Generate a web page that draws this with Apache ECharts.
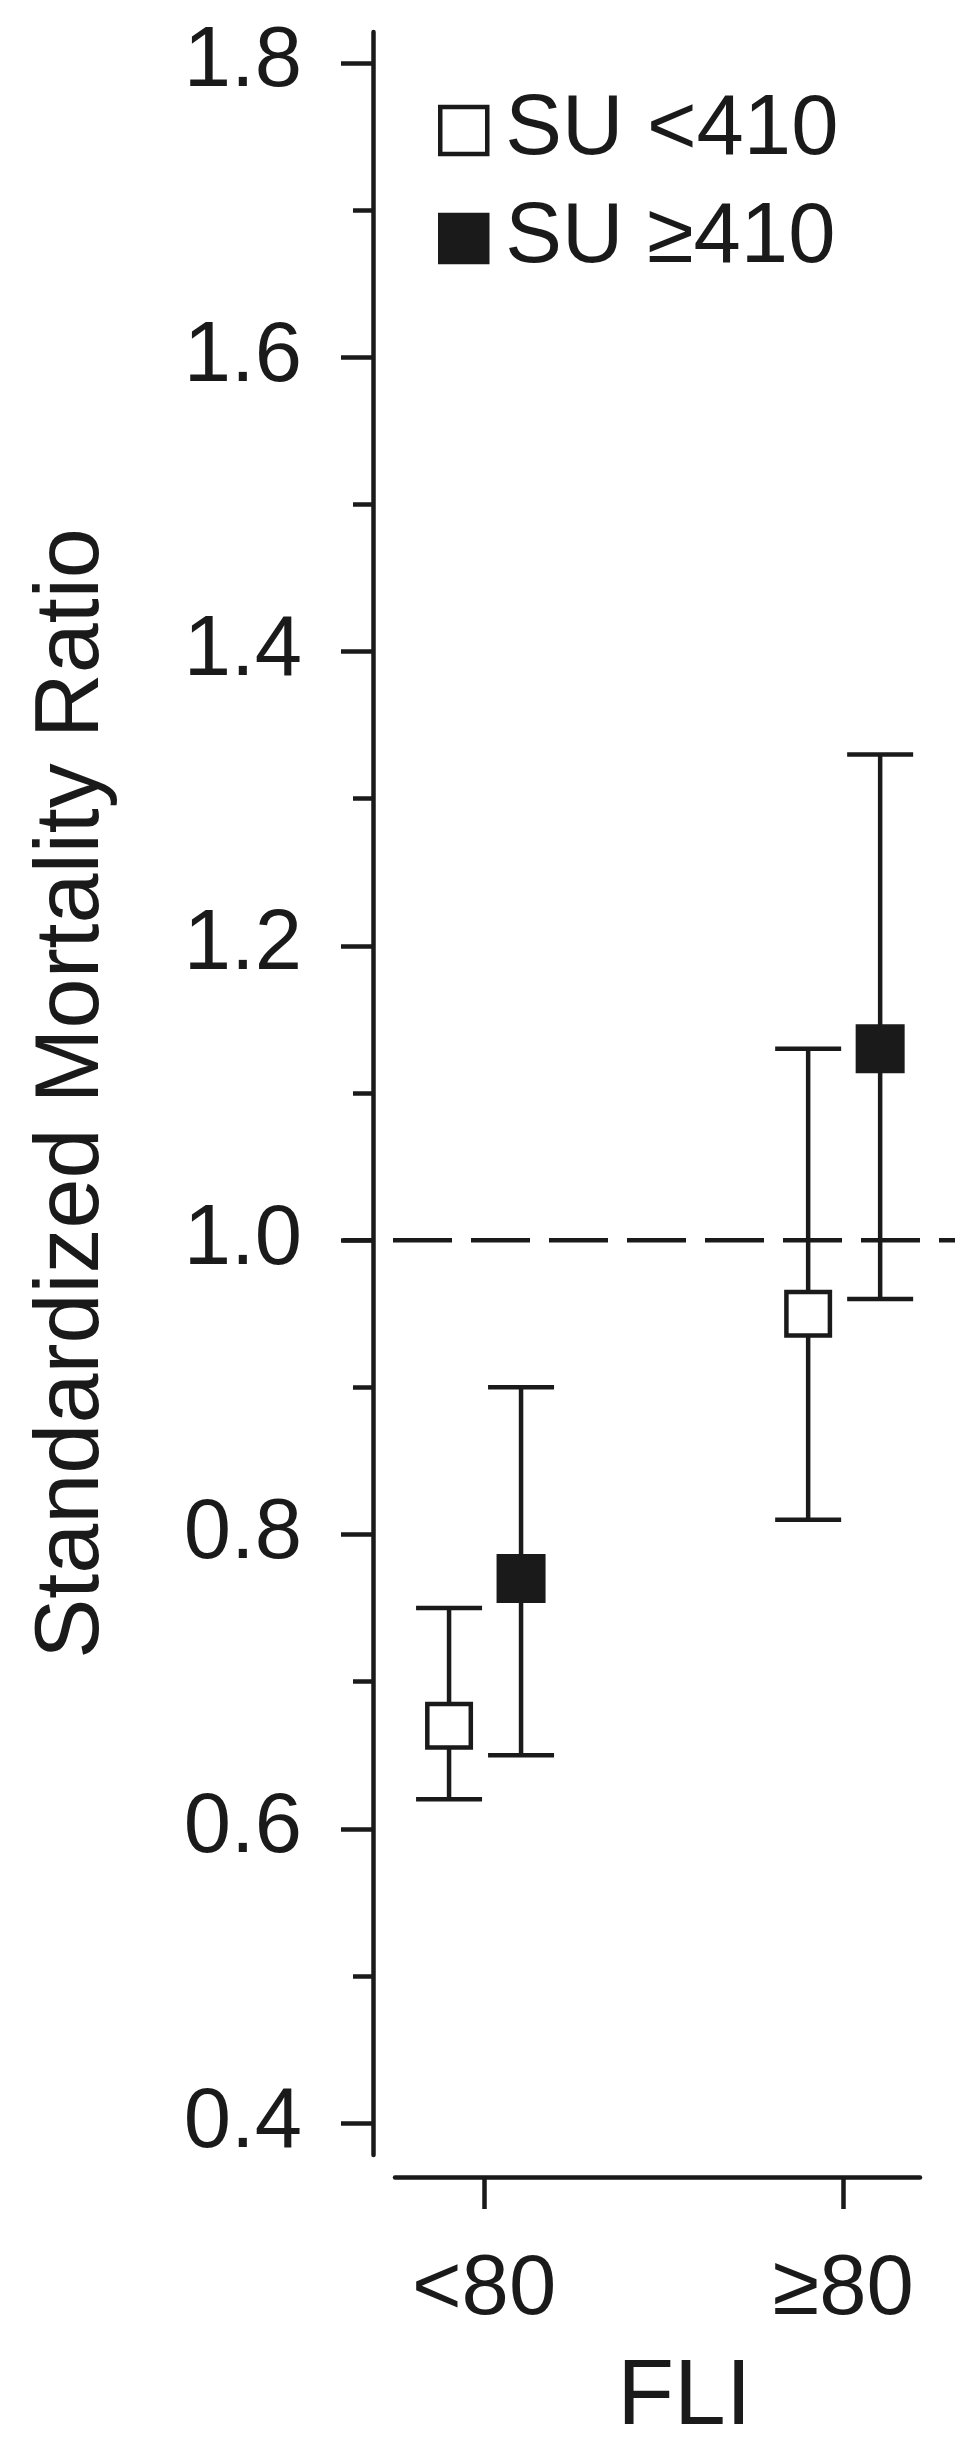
<!DOCTYPE html>
<html>
<head>
<meta charset="utf-8">
<script src="https://cdn.jsdelivr.net/npm/echarts@6/dist/echarts.min.js"></script>
<style>
  html, body { margin: 0; padding: 0; background: #fff; }
  #chart { width: 958px; height: 2458px; }
</style>
</head>
<body>
<div id="chart"></div>
<script>
// data
const categories = ['<80', '\u226580'];
const seriesNames = ['SU <410', 'SU \u2265410'];

const smrLowSU = [0.67, 0.95];
const ciLowLowSU = [0.62, 0.81];
const ciHighLowSU = [0.75, 1.13];

const smrHighSU = [0.77, 1.13];
const ciLowHighSU = [0.65, 0.96];
const ciHighHighSU = [0.90, 1.33];

const majorTicks = [0.4, 0.6, 0.8, 1.0, 1.2, 1.4, 1.6, 1.8];
const minorTicks = [0.5, 0.7, 0.9, 1.1, 1.3, 1.5, 1.7];
const referenceLine = [1.0];

/* ------------------------------------------------------------------ */

const ink = '#1a1a1a';
const font = '"Liberation Sans", Arial, sans-serif';
const stroke = 4.5;

const chart = echarts.init(document.getElementById('chart'));

const errorSeries = (name, means, lows, highs, dx, filled) => ({
  name,
  type: 'custom',
  data: means.map((m, i) => [i, m, lows[i], highs[i]]),
  encode: { x: 0, y: [1, 2, 3] },
  itemStyle: { color: filled ? ink : '#fff', borderColor: ink, borderWidth: stroke },
  renderItem: (params, api) => {
    const x = api.value(0);
    const mid = api.coord([x, api.value(1)]);
    const lo = api.coord([x, api.value(2)]);
    const hi = api.coord([x, api.value(3)]);
    const cx = mid[0] + dx;
    const half = 33;
    const box = filled ? 49 : 43.5;
    const line = { stroke: ink, lineWidth: stroke };
    return {
      type: 'group',
      children: [
        { type: 'line', shape: { x1: cx, y1: hi[1], x2: cx, y2: lo[1] }, style: line },
        { type: 'line', shape: { x1: cx - half, y1: hi[1], x2: cx + half, y2: hi[1] }, style: line },
        { type: 'line', shape: { x1: cx - half, y1: lo[1], x2: cx + half, y2: lo[1] }, style: line },
        {
          type: 'rect',
          shape: { x: cx - box / 2, y: mid[1] - box / 2, width: box, height: box },
          style: filled ? { fill: ink } : { fill: '#fff', stroke: ink, lineWidth: stroke }
        }
      ]
    };
  }
});

const yAxisBase = {
  type: 'value',
  min: 0.3783,
  max: 1.821,
  position: 'left',
  offset: 22,
  splitLine: { show: false }
};

chart.setOption({
  animation: false,
  backgroundColor: '#fff',
  textStyle: { fontFamily: font, color: ink },
  grid: { left: 395, right: 38, top: 32, bottom: 303, outerBoundsMode: 'none' },
  legend: {
    data: [
      { name: seriesNames[0], icon: 'rect', itemStyle: { color: '#fff', borderColor: ink, borderWidth: stroke } },
      { name: seriesNames[1], icon: 'rect', itemStyle: { color: ink, borderColor: ink, borderWidth: stroke } }
    ],
    orient: 'vertical',
    left: 433,
    top: 83,
    itemWidth: 47,
    itemHeight: 47,
    itemGap: 23,
    selectedMode: false,
    textStyle: { fontFamily: font, fontSize: 85, color: ink, lineHeight: 85, padding: [0, 0, 0, 13] }
  },
  xAxis: {
    type: 'value',
    min: -0.248,
    max: 1.214,
    offset: 22,
    splitLine: { show: false },
    axisLine: { show: true, onZero: false, lineStyle: { color: ink, width: stroke } },
    axisTick: { show: true, length: 32, customValues: [0, 1], lineStyle: { color: ink, width: stroke } },
    axisLabel: {
      customValues: [0, 1],
      formatter: v => categories[Math.round(v)],
      fontFamily: font, fontSize: 85, color: ink, margin: 71
    },
    name: 'FLI',
    nameLocation: 'middle',
    nameGap: 175,
    nameTextStyle: { fontFamily: font, fontSize: 93, color: ink, padding: [0, 0, 0, 54] }
  },
  yAxis: [
    Object.assign({}, yAxisBase, {
      axisLine: { show: true, onZero: false, lineStyle: { color: ink, width: stroke } },
      axisTick: { show: true, length: 32, customValues: majorTicks, lineStyle: { color: ink, width: stroke } },
      axisLabel: {
        customValues: majorTicks,
        formatter: v => v.toFixed(1),
        fontFamily: font, fontSize: 85, color: ink, margin: 71
      },
      name: 'Standardized Mortality Ratio',
      nameLocation: 'middle',
      nameGap: 255,
      nameRotate: 90,
      nameTextStyle: { fontFamily: font, fontSize: 90, color: ink }
    }),
    Object.assign({}, yAxisBase, {
      axisLine: { show: false, onZero: false },
      axisTick: { show: true, length: 20, customValues: minorTicks, lineStyle: { color: ink, width: stroke } },
      axisLabel: { show: false }
    })
  ],
  series: [
    {
      name: 'reference',
      type: 'custom',
      silent: true,
      data: referenceLine.map(v => [0, v]),
      encode: { x: 0, y: 1 },
      renderItem: (params, api) => {
        const y = api.coord([0, api.value(1)])[1];
        const cs = params.coordSys;
        return {
          type: 'line',
          shape: { x1: cs.x - 52, y1: y, x2: cs.x + cs.width + 35, y2: y },
          style: { stroke: ink, lineWidth: stroke, lineDash: [59, 19], lineDashOffset: 28 }
        };
      }
    },
    errorSeries(seriesNames[0], smrLowSU, ciLowLowSU, ciHighLowSU, -35, false),
    errorSeries(seriesNames[1], smrHighSU, ciLowHighSU, ciHighHighSU, 37, true)
  ]
});
</script>
</body>
</html>
